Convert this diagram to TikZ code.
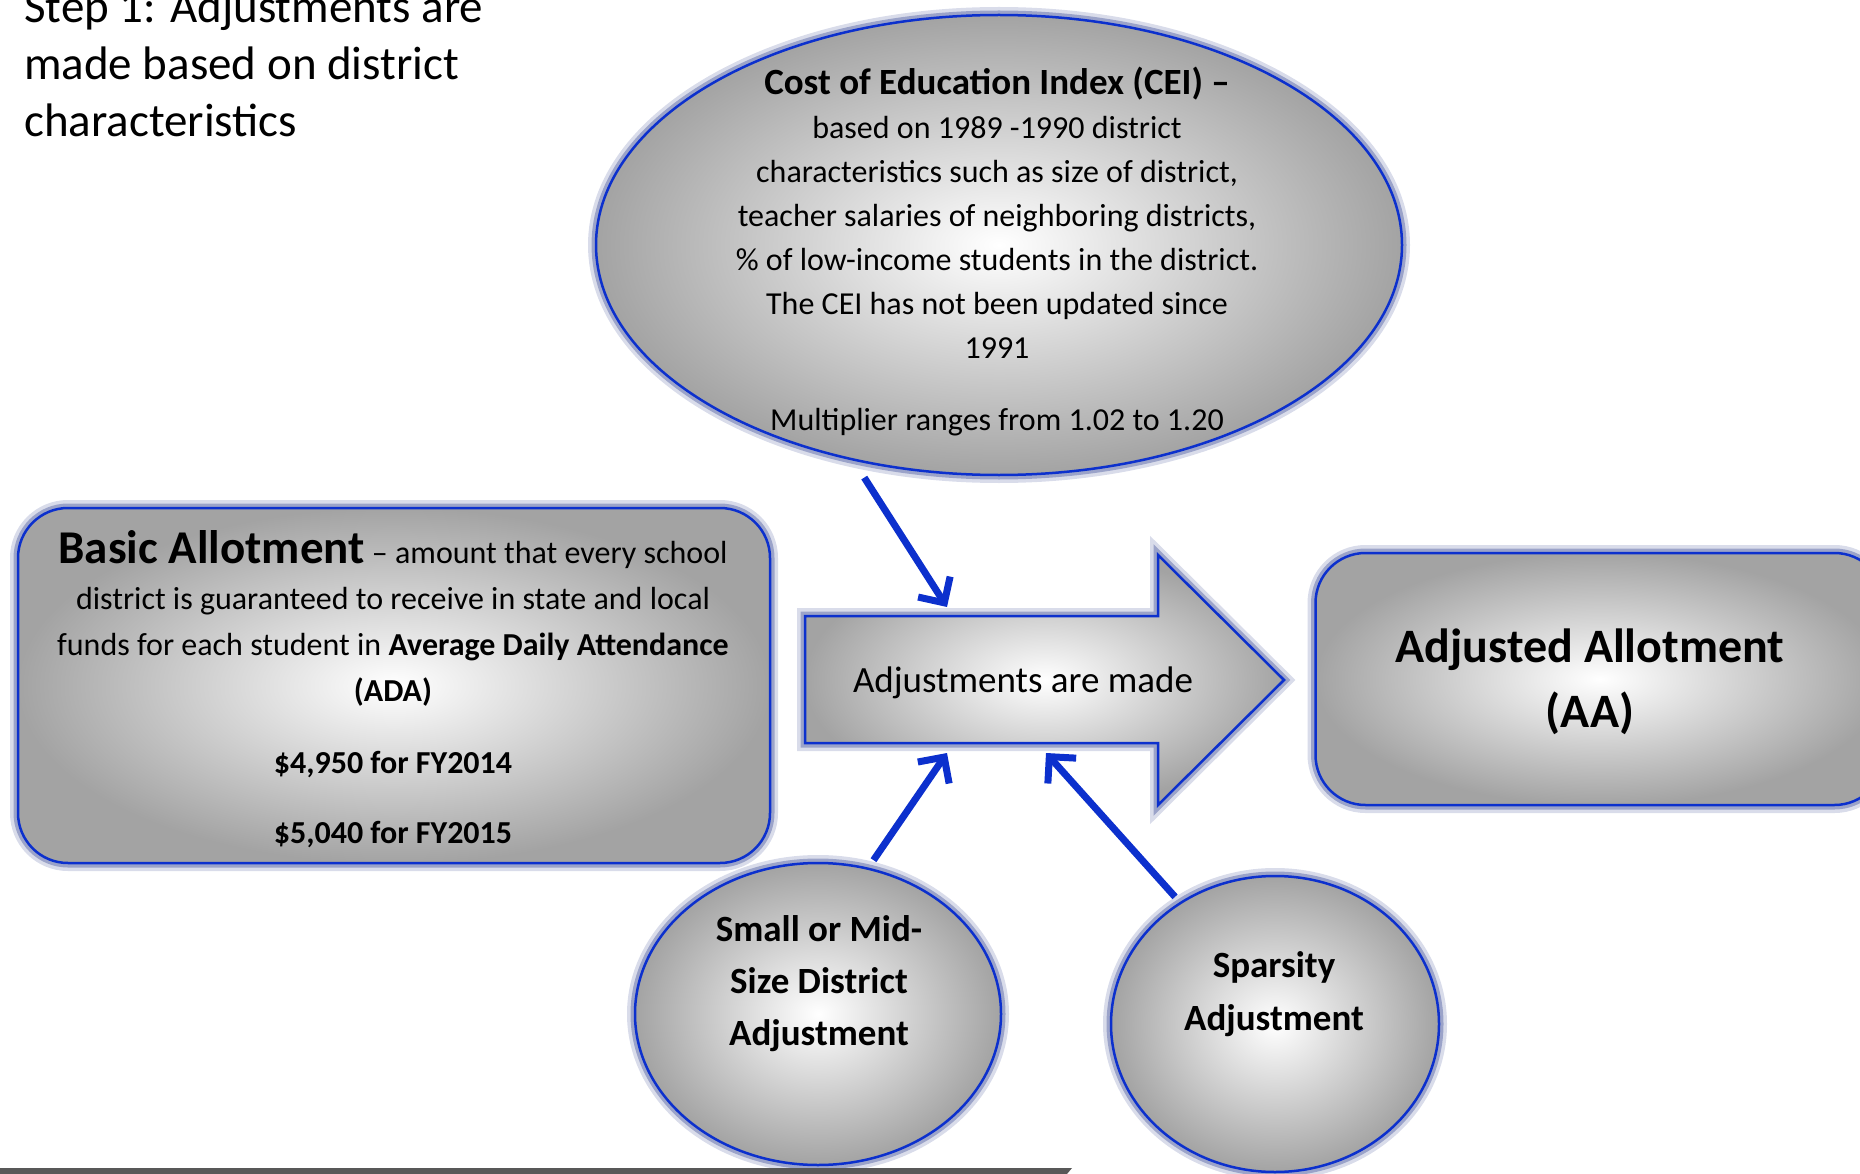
\documentclass[tikz,border=0pt]{standalone}
\usepackage{fontspec}
\setmainfont{Carlito}
\usetikzlibrary{shapes.geometric, positioning, arrows.meta}
\definecolor{adjBlue}{RGB}{12,48,205}
\definecolor{adjGlow}{RGB}{80,95,160}
\definecolor{adjBar}{RGB}{88,88,88}
\tikzset{
  glow/.style={preaction={draw=adjGlow, line width=16pt, opacity=0.22},
               preaction={draw=adjGlow, line width=9pt, opacity=0.45}},
  greyfill/.style={inner color=white, outer color=gray!72},
  ovalbox/.style={ellipse, draw=adjBlue, line width=2.5pt, greyfill, glow, inner sep=0pt},
  roundbox/.style={rectangle, rounded corners=50pt, draw=adjBlue, line width=2.5pt, greyfill, glow, inner sep=0pt},
  conn/.style={draw=adjBlue, line width=7pt, -{Straight Barb[length=19pt, width=38pt]}},
  txt/.style={align=center, inner sep=0pt, anchor=base}
}

\begin{document}
\begin{tikzpicture}[x=1pt, y=-1pt]
    \useasboundingbox (0,0) rectangle (1860,1174);
    \clip (0,0) rectangle (1860,1174);

    % heading
    \node[anchor=base west, align=left, inner sep=0pt, font=\fontsize{47}{57}\selectfont] (step) at (24,137)
      {Step 1: Adjustments are\\ made based on district\\ characteristics};

    % shapes
    \node[ovalbox, minimum width=806pt, minimum height=460pt] (cei) at (999,245) {};
    \node[roundbox, minimum width=752pt, minimum height=355pt] (basic) at (394,685.5) {};
    \node[roundbox, minimum width=569pt, minimum height=252pt] (aa) at (1600,679) {};
    \node[ovalbox, minimum width=366pt, minimum height=302pt] (small) at (818,1014) {};
    \node[ovalbox, minimum width=328pt, minimum height=296pt] (sparse) at (1275,1024) {};

    % the big arrow
    \draw[adjBlue, line width=2.5pt, greyfill, glow]
      (805,616) -- (1158,616) -- (1158,555) -- (1284,680) -- (1158,805) -- (1158,743) -- (805,743) -- cycle;
    \coordinate (inTop) at (947,607);
    \coordinate (inLeft) at (947,753);
    \coordinate (inRight) at (1046,753);

    % texts
    \node[txt, font=\fontsize{32}{44}\selectfont] (ceitxt) at (997,430)
      {{\fontsize{37}{44}\selectfont\bfseries Cost of Education Index (CEI) –}\\
       based on 1989 -1990 district\\
       characteristics such as size of district,\\
       teacher salaries of neighboring districts,\\
       \% of low-income students in the district.\\
       The CEI has not been updated since\\
       1991\\[28pt]
       Multiplier ranges from 1.02 to 1.20};
    \node[txt, font=\fontsize{32}{46}\selectfont] (basictxt) at (393,843)
      {{\fontsize{47}{46}\selectfont\bfseries Basic Allotment} – amount that every school\\
       district is guaranteed to receive in state and local\\
       funds for each student in \textbf{Average Daily Attendance}\\
       \textbf{(ADA)}\\[26pt]
       \textbf{\$4,950 for FY2014}\\[24pt]
       \textbf{\$5,040 for FY2015}};
    \node[txt, font=\fontsize{48}{65}\selectfont\bfseries] (aatxt) at (1590,727)
      {Adjusted Allotment\\ (AA)};
    \node[txt, font=\fontsize{37}{44}\selectfont] (adjtxt) at (1023,692) {Adjustments are made};
    \node[txt, font=\fontsize{37}{52}\selectfont\bfseries] (smalltxt) at (819,1045)
      {Small or Mid-\\ Size District\\ Adjustment};
    \node[txt, font=\fontsize{37}{53}\selectfont\bfseries] (sparsetxt) at (1274,1030)
      {Sparsity\\ Adjustment};

    % connectors
    \draw[conn, shorten <=20pt] (cei.236) -- (inTop);
    \draw[conn, shorten <=9pt] (small.71) -- (inLeft);
    \draw[conn, shorten <=7pt] (sparse.128) -- (inRight);

    % bar at the foot
    \fill[adjBar] (0,1168) -- (1072,1168) -- (1067,1174) -- (0,1174) -- cycle;
\end{tikzpicture}
\end{document}
